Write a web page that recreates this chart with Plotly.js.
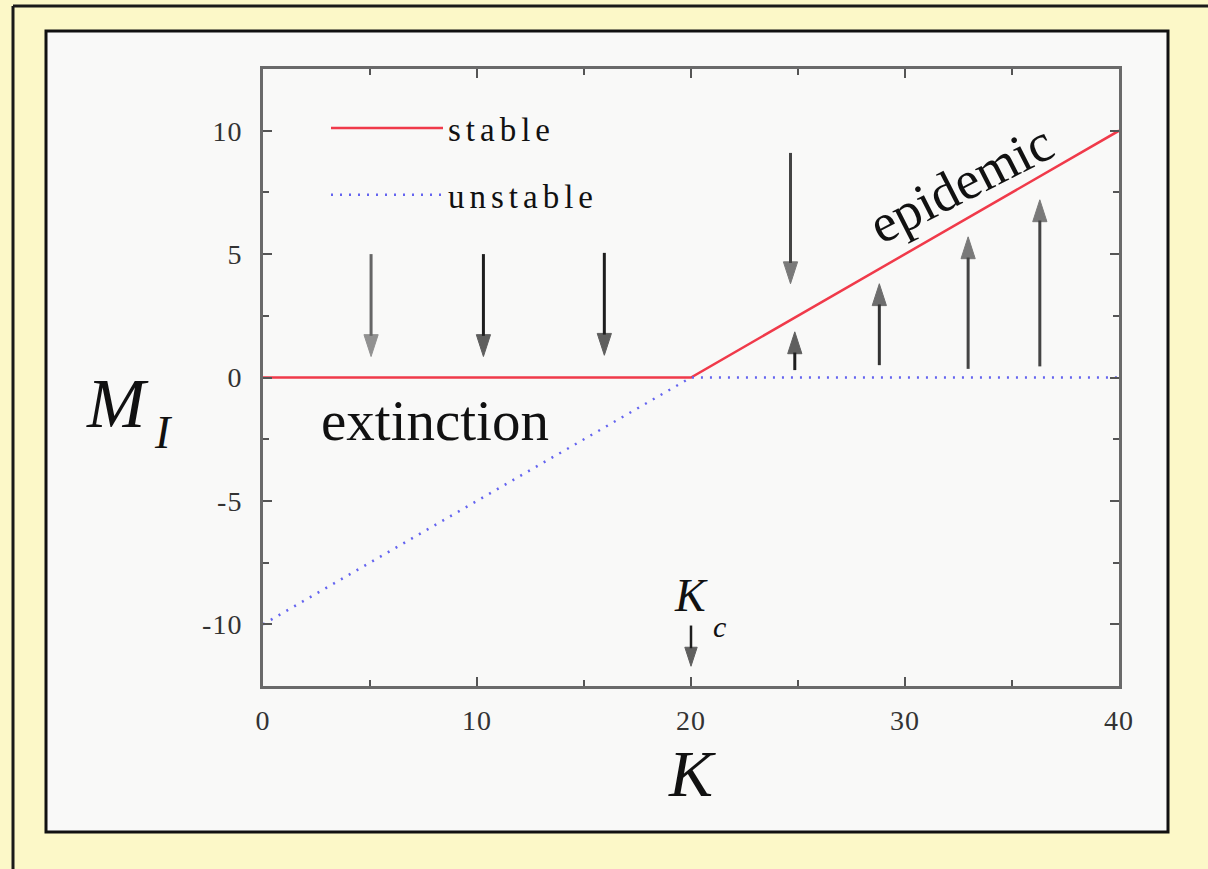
<!DOCTYPE html>
<html>
<head>
<meta charset="utf-8">
<script src="https://cdn.plot.ly/plotly-3.0.1.min.js"></script>
<style>
  html, body { margin: 0; padding: 0; background: #fcf8c8; overflow: hidden; }
  #chart { width: 1208px; height: 869px; }
  .legendtext { letter-spacing: 5px; }
  .xtick text, .ytick text { letter-spacing: 1px; }
</style>
</head>
<body>
<div id="chart"></div>
<script>
// Fixed points of the mean-field model: M_I versus coupling K
const kPoints = [0, 20, 40];
const stableM = [0, 0, 10];        // extinction branch, then epidemic branch
const unstableM = [-10, 0, 0];

// Flow arrows: position on K, start value, end value
const arrowK    = [5.05, 10.3, 15.95, 24.65, 24.85, 28.8, 32.95, 36.3];
const arrowFrom = [5.0, 5.0, 5.05, 9.1, 0.3, 0.5, 0.35, 0.45];
const arrowTo   = [0.85, 0.85, 0.9, 3.8, 1.85, 3.8, 5.7, 7.2];
const arrowColor = ['#666', '#1e1e1e', '#1e1e1e', '#444', '#1e1e1e', '#333', '#444', '#444'];

// Critical coupling marker
const kCritical = 20;
const kcArrowFrom = -10.05;
const kcArrowTo = -11.7;

// Axis ticks
const xTickVals = [0, 10, 20, 30, 40];
const xTickText = ['0', '10', '20', '30', '40'];
const yTickVals = [-10, -5, 0, 5, 10];
const yTickText = ['-10', '-5', '0', '5', '10'];

const serif = 'Liberation Serif, Times New Roman, serif';

// page geometry
const W = 1208, H = 869;
const mL = 263, mR = 89, mT = 69, mB = 183;
const plotW = W - mL - mR, plotH = H - mT - mB;
const px = v => (v - mL) / plotW;          // pixel x -> paper x
const py = v => (H - mB - v) / plotH;      // pixel y -> paper y

const traces = [
  {
    x: kPoints, y: stableM, name: 'stable', mode: 'lines',
    line: { color: '#f03a4a', width: 2.5 },
    legendgroup: 'a', hoverinfo: 'skip'
  },
  {
    x: kPoints, y: unstableM, name: 'unstable', mode: 'lines',
    line: { color: '#6464f0', width: 2.5, dash: '2px,7px' },
    legendgroup: 'b', hoverinfo: 'skip'
  }
];

// one vertical arrow: shaft as a line, head as an arrow marker at the end point
function arrowTrace(k, y0, y1, color, width, head) {
  return {
    x: [k, k], y: [y0, y1], mode: 'lines+markers', showlegend: false, hoverinfo: 'skip',
    line: { color: color, width: width },
    marker: { symbol: ['circle', 'arrow'], size: [0.1, head], angleref: 'previous',
              color: color, line: { width: 1, color: color } }
  };
}
for (let i = 0; i < arrowK.length; i++) {
  traces.push(arrowTrace(arrowK[i], arrowFrom[i], arrowTo[i], arrowColor[i], 3, 23));
}
traces.push(arrowTrace(kCritical, kcArrowFrom, kcArrowTo, '#1e1e1e', 2.5, 20));

const annotations = [];
annotations.push({
  x: kCritical, y: -8.85, xref: 'x', yref: 'y', xanchor: 'center',
  text: '<i>K</i>', showarrow: false,
  font: { family: serif, size: 46, color: '#111' }
});
annotations.push({
  x: kCritical + 1.35, y: -10.1, xref: 'x', yref: 'y', xanchor: 'center',
  text: '<i>c</i>', showarrow: false,
  font: { family: serif, size: 30, color: '#111' }
});
annotations.push({
  x: 8.05, y: -1.75, xref: 'x', yref: 'y', xanchor: 'center',
  text: 'extinction', showarrow: false,
  font: { family: serif, size: 57, color: '#111' }
});
annotations.push({
  x: 32.6, y: 7.85, xref: 'x', yref: 'y', xanchor: 'center', textangle: -27,
  text: 'epidemic', showarrow: false,
  font: { family: serif, size: 54, color: '#111' }
});
annotations.push({
  x: px(117), y: py(404), xref: 'paper', yref: 'paper', xanchor: 'center', yanchor: 'middle',
  text: '<i>M</i>', showarrow: false,
  font: { family: serif, size: 70, color: '#111' }
});
annotations.push({
  x: px(163), y: py(432), xref: 'paper', yref: 'paper', xanchor: 'center', yanchor: 'middle',
  text: '<i>I</i>', showarrow: false,
  font: { family: serif, size: 46, color: '#111' }
});

const shapes = [
  // outer frame edges
  { type: 'line', xref: 'paper', yref: 'paper', x0: px(13), x1: px(13), y0: py(6), y1: py(H),
    line: { color: '#1a1a1a', width: 3 }, layer: 'below' },
  { type: 'line', xref: 'paper', yref: 'paper', x0: px(13), x1: px(W), y0: py(6), y1: py(6),
    line: { color: '#1a1a1a', width: 3 }, layer: 'below' },
  // inner panel
  { type: 'rect', xref: 'paper', yref: 'paper', x0: px(46), x1: px(1168), y0: py(832), y1: py(31),
    fillcolor: '#f9f9f8', line: { color: '#111', width: 3 }, layer: 'below' }
];

const axisCommon = {
  showgrid: false, zeroline: false, showline: true, linecolor: '#6a6a6a', linewidth: 3,
  mirror: 'ticks', ticks: 'inside', ticklen: 9, tickwidth: 2, tickcolor: '#555',
  tickmode: 'array',
  tickfont: { family: serif, size: 28, color: '#333' }
};

const layout = {
  width: W, height: H,
  margin: { l: mL, r: mR, t: mT, b: mB, pad: 0 },
  paper_bgcolor: '#fcf8c8',
  plot_bgcolor: 'rgba(0,0,0,0)',
  showlegend: true,
  legend: {
    x: px(326), y: py(100), xanchor: 'left', yanchor: 'top',
    bgcolor: 'rgba(0,0,0,0)', borderwidth: 0,
    itemwidth: 112, tracegroupgap: 21, traceorder: 'grouped',
    font: { family: serif, size: 33, color: '#111' }
  },
  xaxis: Object.assign({}, axisCommon, {
    range: [0, 40], tickvals: xTickVals, ticktext: xTickText, ticklabelstandoff: 7,
    minor: { tickmode: 'linear', tick0: 0, dtick: 5, ticks: 'inside', ticklen: 6, tickwidth: 2, tickcolor: '#555' },
    title: { text: '<i>K</i>', standoff: 16, font: { family: serif, size: 66, color: '#111' } }
  }),
  yaxis: Object.assign({}, axisCommon, {
    range: [-12.5, 12.5], tickvals: yTickVals, ticktext: yTickText, ticklabelstandoff: 12,
    minor: { tickmode: 'linear', tick0: 0, dtick: 2.5, ticks: 'inside', ticklen: 6, tickwidth: 2, tickcolor: '#555' }
  }),
  annotations: annotations,
  shapes: shapes
};

Plotly.newPlot('chart', traces, layout, { staticPlot: true });
</script>
</body>
</html>
